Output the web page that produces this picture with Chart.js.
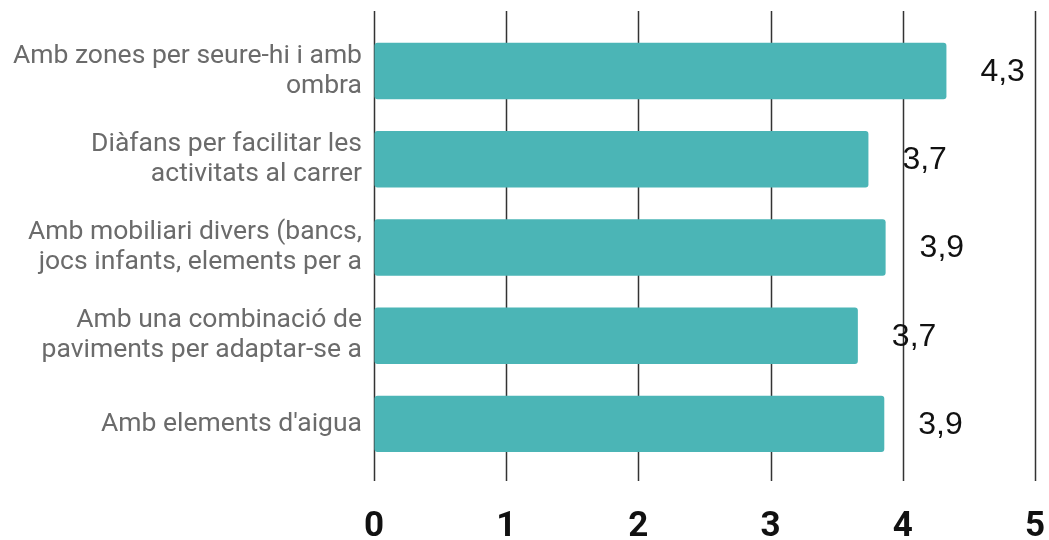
<!DOCTYPE html>
<html>
<head>
<meta charset="utf-8">
<script src="https://cdn.jsdelivr.net/npm/chart.js@4/dist/chart.umd.min.js"></script>
<style>
  html, body { margin: 0; padding: 0; background: #fff; }
  #wrap { width: 1049px; height: 540px; }
</style>
</head>
<body>
<div id="wrap"><canvas id="chart"></canvas></div>
<script>
// data
const categories = [
  ['Amb zones per seure-hi i amb', 'ombra'],
  ['Diàfans per facilitar les', 'activitats al carrer'],
  ['Amb mobiliari divers (bancs,', 'jocs infants, elements per a'],
  ['Amb una combinació de', 'paviments per adaptar-se a'],
  ["Amb elements d'aigua"]
];
const scores = [4.33, 3.74, 3.87, 3.66, 3.86];
const xTicks = [0, 1, 2, 3, 4, 5];

const barColor = '#4bb5b6';

// vertical lines, running a bit past the plot area at both ends
const gridLines = {
  id: 'gridLines',
  beforeDatasetsDraw(chart) {
    const { ctx, chartArea, scales } = chart;
    ctx.save();
    ctx.strokeStyle = '#333';
    ctx.lineWidth = 1.5;
    scales.x.ticks.forEach((t, i) => {
      const x = Math.round(scales.x.getPixelForTick(i)) + 0.5;
      ctx.beginPath();
      ctx.moveTo(x, chartArea.top - 16);
      ctx.lineTo(x, chartArea.bottom + 13);
      ctx.stroke();
    });
    ctx.restore();
  }
};

// "4,3" style labels to the right of each bar
const valueLabels = {
  id: 'valueLabels',
  afterDatasetsDraw(chart) {
    const { ctx } = chart;
    const meta = chart.getDatasetMeta(0);
    ctx.save();
    ctx.font = '32px "Liberation Sans", Arial, sans-serif';
    ctx.fillStyle = '#111';
    ctx.textAlign = 'left';
    ctx.textBaseline = 'middle';
    meta.data.forEach((bar, i) => {
      const txt = scores[i].toFixed(1).replace('.', ',');
      ctx.fillText(txt, bar.x + 34, bar.y + 1);
    });
    ctx.restore();
  }
};

const ctx = document.getElementById('chart').getContext('2d');
const chart = new Chart(ctx, {
  type: 'bar',
  data: {
    labels: categories,
    datasets: [{
      data: scores,
      backgroundColor: barColor,
      borderRadius: 3,
      borderSkipped: false,
      barPercentage: 0.64,
      categoryPercentage: 1
    }]
  },
  options: {
    indexAxis: 'y',
    responsive: true,
    maintainAspectRatio: false,
    animation: false,
    layout: { padding: { top: 26, right: 14 } },
    plugins: {
      legend: { display: false },
      tooltip: { enabled: false }
    },
    scales: {
      x: {
        min: 0,
        max: 5,
        afterBuildTicks: (scale) => {
          scale.ticks = xTicks.map((v) => ({ value: v }));
        },
        grid: { drawOnChartArea: false, drawTicks: true, tickLength: 38, tickColor: 'rgba(0,0,0,0)' },
        border: { display: false },
        ticks: {
          color: '#111',
          padding: 0,
          font: { family: 'Roboto', size: 35, weight: 'bold' }
        },
        afterFit: (scale) => { scale.height = 72; }
      },
      y: {
        grid: { display: false, drawTicks: false },
        border: { display: false },
        ticks: {
          color: '#6b6b6b',
          padding: 12,
          font: { family: 'Roboto', size: 26.5, lineHeight: 1.13 }
        },
        afterFit: (scale) => { scale.width = 374; }
      }
    }
  },
  plugins: [gridLines, valueLabels]
});
</script>
</body>
</html>
